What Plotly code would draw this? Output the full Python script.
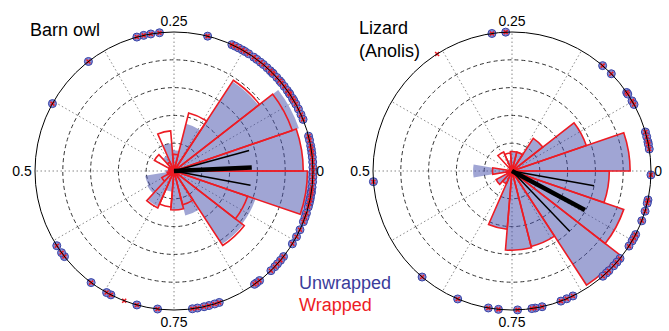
import plotly.graph_objects as go

# ---------------- data ----------------
N_BINS = 19
BIN_WIDTH = 360.0 / N_BINS
BIN_CENTERS = [(k + 0.5) * BIN_WIDTH for k in range(N_BINS)]

# rose histograms (relative radius, outer circle = 1)
owl_unwrapped = [0.93, 0.95, 0.77, 0.35, 0.15, 0.20, 0.12, 0.05, 0.03, 0.06,
                 0.21, 0.22, 0.28, 0.15, 0.28, 0.33, 0.63, 0.62, 0.98]
owl_wrapped = [0.93, 0.90, 0.78, 0.43, 0.12, 0.29, 0.07, 0.16, 0.04, 0.03,
               0.05, 0.10, 0.29, 0.26, 0.28, 0.25, 0.64, 0.56, 0.96]

liz_unwrapped = [0.85, 0.565, 0.28, 0.14, 0.14, 0.08, 0.02, 0.02, 0.02, 0.28,
                 0.04, 0.13, 0.10, 0.42, 0.57, 0.56, 0.98, 0.85, 0.70]
liz_wrapped = [0.85, 0.565, 0.28, 0.14, 0.14, 0.13, 0.15, 0.02, 0.02, 0.14,
               0.04, 0.13, 0.10, 0.42, 0.57, 0.56, 0.98, 0.85, 0.70]

# mean vector and its confidence limits (degrees, length)
owl_vec_theta = [2.5, 15.3, -10.6]
owl_vec_len = [0.56, 0.56, 0.56]
liz_vec_theta = [331.9, 349.8, 313.7]
liz_vec_len = [0.595, 0.60, 0.60]
vec_widths = [4.5, 1.5, 1.5]

# individual phases (degrees) on the unit circle
owl_phases = [96, 99.6, 102.6, 105.5, 128, 151,
              76, 65.4, 63.9, 62.3, 60.5, 59.3, 57.5, 55.0, 53.4, 51.5, 50.0, 48, 46.2,
              45.0, 44.4, 42.3, 40.5, 39.4, 37.5, 35.4, 34.0, 33.5, 31.5, 30.5, 28.8,
              26.5, 24, 21.8, 14.5, 12.8, 10.5, 9.0, 7.4, 5.7, 3.7, 1.5, -0.4,
              -2.5, -4.5, -6.7, -8.5, -9.3, -11.0, -12.1, -13.5, -15, -17.7, -19.5,
              -21.4, -25, -28.2, -31.6, -38, -40, -41.9, -43.5, -45.8, -52, -53.5, -54.6,
              -71, -73, -75.4, -77.5, -80.3, -82.4,
              263.2, 254.5, 243, 241, 233.4, 218, 216, 212.5]
owl_wrapped_only = [249]

liz_phases = [98.3, 92.6, 49.3, 44.4, 34.4, 33.6, 30.3, 28.6, 16.3, 14.3, 12.1,
              11.1, 9.1, -1.6, -12, -13.4, -16.8, -21, -27.2, -28.7, -30.2, -32.7,
              -39, -41, -43, -45.8, -47.2, -49.2, -64, -66.8, -69.4, -77.5, -80.4,
              -81.8, -87.7, 264.4, 260.2, 247, 229.7, 184.4]
liz_wrapped_only = [122.6]

ANG_TICKS = list(range(0, 360, 30))
ANG_TICK_LABELS = {0: "0", 90: "0.25", 180: "0.5", 270: "0.75"}
RING_TICKS = [0.2, 0.4, 0.6, 0.8]

# ---------------- styles ----------------
BLUE_FILL = "rgba(65,75,169,0.5)"
RED = "rgb(237,28,36)"
DOT_FILL = "rgba(125,135,212,0.95)"
DOT_EDGE = "rgb(55,65,165)"
TEXT_BLUE = "rgb(58,60,155)"
FONT = "Liberation Sans, Arial, sans-serif"

fig = go.Figure()


def add_panel(polar, unwrapped, wrapped, vth, vlen, phases, wonly):
    fig.add_trace(go.Barpolar(r=unwrapped, theta=BIN_CENTERS, width=BIN_WIDTH,
                              marker=dict(color=BLUE_FILL, line=dict(width=0)),
                              subplot=polar, showlegend=False, hoverinfo="skip"))
    fig.add_trace(go.Barpolar(r=wrapped, theta=BIN_CENTERS, width=BIN_WIDTH,
                              marker=dict(color="rgba(0,0,0,0)", line=dict(color=RED, width=1.6)),
                              subplot=polar, showlegend=False, hoverinfo="skip"))
    for th, ln, w in zip(vth, vlen, vec_widths):
        fig.add_trace(go.Scatterpolar(r=[0, ln], theta=[th, th], mode="lines",
                                      line=dict(color="black", width=w),
                                      subplot=polar, showlegend=False, hoverinfo="skip"))
    fig.add_trace(go.Scatterpolar(r=[1] * len(phases), theta=phases, mode="markers",
                                  marker=dict(size=8, color=DOT_FILL, line=dict(color=DOT_EDGE, width=1)),
                                  cliponaxis=False, subplot=polar, showlegend=False))
    allw = phases + wonly
    fig.add_trace(go.Scatterpolar(r=[1] * len(allw), theta=allw, mode="markers",
                                  marker=dict(symbol="x-thin", size=4, line=dict(color=RED, width=1.5)),
                                  cliponaxis=False, subplot=polar, showlegend=False))


add_panel("polar", owl_unwrapped, owl_wrapped, owl_vec_theta, owl_vec_len, owl_phases, owl_wrapped_only)
add_panel("polar2", liz_unwrapped, liz_wrapped, liz_vec_theta, liz_vec_len, liz_phases, liz_wrapped_only)


def polar_layout(xdom):
    return dict(
        domain=dict(x=xdom, y=[0.0634, 0.9033]),
        bgcolor="white",
        barmode="overlay",
        radialaxis=dict(range=[0, 1], tickvals=RING_TICKS, showticklabels=False, ticks="",
                        showline=False, gridcolor="#333", griddash="4px,3px", gridwidth=1),
        angularaxis=dict(direction="counterclockwise", rotation=0, thetaunit="degrees",
                         tickmode="array", tickvals=ANG_TICKS,
                         ticktext=[ANG_TICK_LABELS.get(t, "") for t in ANG_TICKS],
                         ticks="", showline=True, linecolor="black", linewidth=1,
                         gridcolor="#888", griddash="1.5px,2.5px", gridwidth=1,
                         tickfont=dict(size=14, color="black", family=FONT)),
    )


W, H = 669, 331
fig.update_layout(
    width=W, height=H, margin=dict(l=0, r=0, t=0, b=0),
    paper_bgcolor="white", plot_bgcolor="white",
    font=dict(family=FONT, color="black"),
    polar=polar_layout([35 / W, 313 / W]),
    polar2=polar_layout([373 / W, 651 / W]),
    annotations=[
        dict(text="Barn owl", x=28 / W, y=1 - 30 / H, xref="paper", yref="paper",
             xanchor="left", yanchor="middle", showarrow=False, font=dict(size=18)),
        dict(text="Lizard", x=357 / W, y=1 - 28 / H, xref="paper", yref="paper",
             xanchor="left", yanchor="middle", showarrow=False, font=dict(size=18)),
        dict(text="(Anolis)", x=357 / W, y=1 - 51 / H, xref="paper", yref="paper",
             xanchor="left", yanchor="middle", showarrow=False, font=dict(size=18)),
        dict(text="Unwrapped", x=297 / W, y=1 - 283 / H, xref="paper", yref="paper",
             xanchor="left", yanchor="middle", showarrow=False, font=dict(size=18, color=TEXT_BLUE)),
        dict(text="Wrapped", x=297 / W, y=1 - 305 / H, xref="paper", yref="paper",
             xanchor="left", yanchor="middle", showarrow=False, font=dict(size=18, color=RED)),
    ],
)

fig.write_html("out.html", config={"displayModeBar": False},
               post_script="document.body.style.margin='0';document.body.style.overflow='hidden';")
